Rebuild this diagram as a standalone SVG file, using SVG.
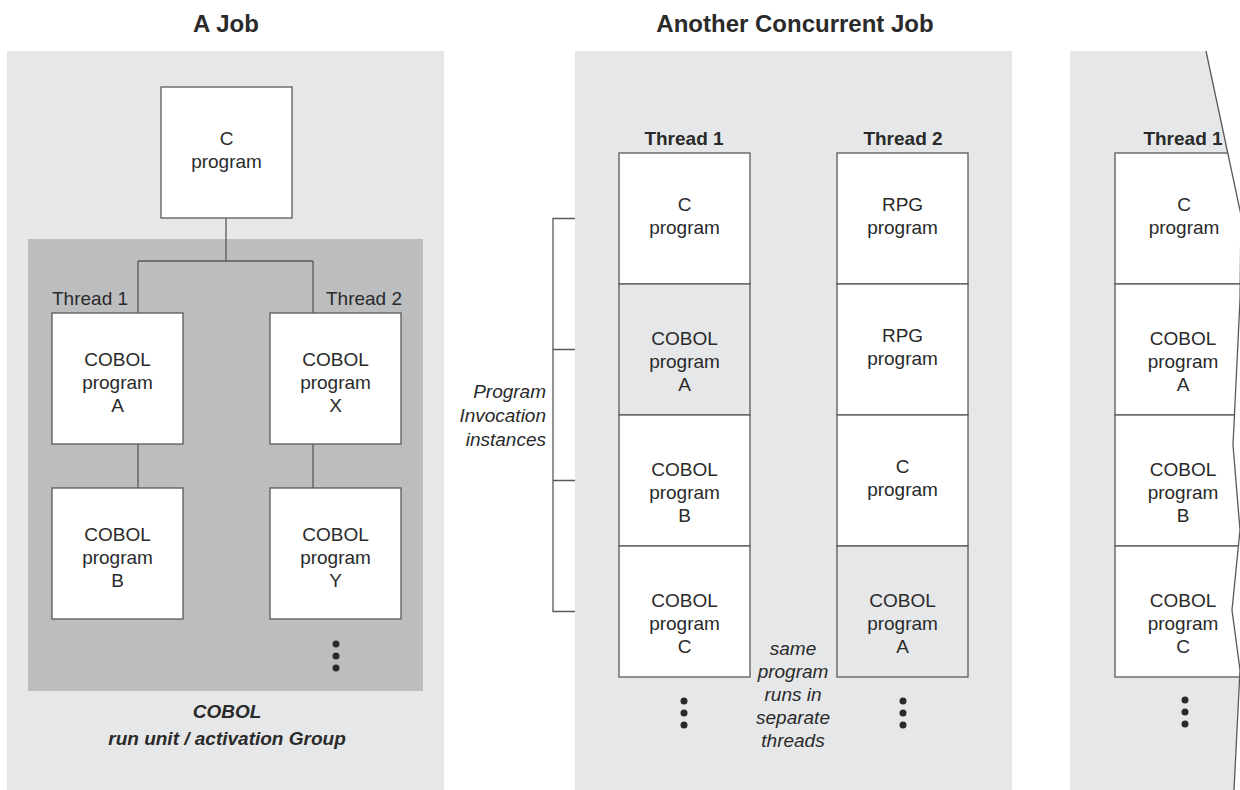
<svg xmlns="http://www.w3.org/2000/svg" width="1240" height="790" viewBox="0 0 1240 790">
<defs>
<style>
text{font-family:"Liberation Sans",Arial,sans-serif;fill:#2a2a2a;font-size:19px}
.t{font-size:24px;font-weight:bold;text-anchor:middle}
.th{font-weight:bold;text-anchor:middle}
.c{text-anchor:middle}
.i{font-style:italic}
.bi{font-style:italic;font-weight:bold;text-anchor:middle}
.box{fill:#ffffff;stroke:#58595b;stroke-width:1.3}
.boxg{fill:#e6e7e8;stroke:#58595b;stroke-width:1.3}
.ln{fill:none;stroke:#58595b;stroke-width:1.3}
.dot{fill:#2a2a2a}
.dash{fill:none;stroke:#666;stroke-width:1.3;stroke-dasharray:2 2}
</style>
<clipPath id="p3clip">
<polygon points="1070,51 1206,51 1241,215 1240,300 1233,445 1240,530 1232,610 1240,670 1234,790 1070,790"/>
</clipPath>
</defs>

<!-- Panel 1 -->
<g id="panel1">
<rect x="7" y="51" width="437" height="739" fill="#e6e7e8"/>
<rect x="28" y="239" width="395" height="452" fill="#bcbdbf"/>
<text class="t" x="226" y="32">A Job</text>
<text x="52" y="305">Thread 1</text>
<text x="402" y="305" text-anchor="end">Thread 2</text>
<text class="bi" x="227" y="718">COBOL</text>
<text class="bi" x="227" y="745">run unit / activation Group</text>
</g>

<g id="connectors">
<path class="ln" d="M226,218 V261 M138,261 H313 M138,261 V313 M313,261 V313 M138,444 V488 M313,444 V488"/>
<path class="ln" d="M619,218.5 H553 V611.5 H619 M553,349.5 H619 M553,480.5 H619"/>
<path class="dash" d="M750,349.5 H793 V611.5 H837"/>
</g>

<g id="p1-c">
<rect class="box" x="161" y="87" width="131" height="131"/>
<text class="c" x="226.5" y="145">C</text>
<text class="c" x="226.5" y="168">program</text>
</g>
<g id="p1-a">
<rect class="box" x="52" y="313" width="131" height="131"/>
<text class="c" x="117.5" y="366">COBOL</text>
<text class="c" x="117.5" y="388.5">program</text>
<text class="c" x="117.5" y="411.5">A</text>
</g>
<g id="p1-x">
<rect class="box" x="270" y="313" width="131" height="131"/>
<text class="c" x="335.5" y="366">COBOL</text>
<text class="c" x="335.5" y="388.5">program</text>
<text class="c" x="335.5" y="411.5">X</text>
</g>
<g id="p1-b">
<rect class="box" x="52" y="488" width="131" height="131"/>
<text class="c" x="117.5" y="541">COBOL</text>
<text class="c" x="117.5" y="563.5">program</text>
<text class="c" x="117.5" y="586.5">B</text>
</g>
<g id="p1-y">
<rect class="box" x="270" y="488" width="131" height="131"/>
<text class="c" x="335.5" y="541">COBOL</text>
<text class="c" x="335.5" y="563.5">program</text>
<text class="c" x="335.5" y="586.5">Y</text>
</g>
<g id="p1-dots">
<circle class="dot" cx="336" cy="644" r="3.5"/>
<circle class="dot" cx="336" cy="656" r="3.5"/>
<circle class="dot" cx="336" cy="668" r="3.5"/>
</g>

<!-- Panel 2 -->
<g id="panel2">
<rect x="575" y="51" width="437" height="739" fill="#e6e7e8"/>
<text class="t" x="795" y="32">Another Concurrent Job</text>
<text class="th" x="684" y="145">Thread 1</text>
<text class="th" x="903" y="145">Thread 2</text>
<text class="i" x="546" y="398" text-anchor="end">Program</text>
<text class="i" x="546" y="422" text-anchor="end">Invocation</text>
<text class="i" x="546" y="446" text-anchor="end">instances</text>
<text class="i c" x="793" y="655">same</text>
<text class="i c" x="793" y="678">program</text>
<text class="i c" x="793" y="701">runs in</text>
<text class="i c" x="793" y="724">separate</text>
<text class="i c" x="793" y="747">threads</text>
</g>
<g id="p2-t1-c">
<rect class="box" x="619" y="153" width="131" height="131"/>
<text class="c" x="684.5" y="211">C</text>
<text class="c" x="684.5" y="234">program</text>
</g>
<g id="p2-t1-a">
<rect class="boxg" x="619" y="284" width="131" height="131"/>
<text class="c" x="684.5" y="345">COBOL</text>
<text class="c" x="684.5" y="368">program</text>
<text class="c" x="684.5" y="391">A</text>
</g>
<g id="p2-t1-b">
<rect class="box" x="619" y="415" width="131" height="131"/>
<text class="c" x="684.5" y="476">COBOL</text>
<text class="c" x="684.5" y="499">program</text>
<text class="c" x="684.5" y="522">B</text>
</g>
<g id="p2-t1-cc">
<rect class="box" x="619" y="546" width="131" height="131"/>
<text class="c" x="684.5" y="607">COBOL</text>
<text class="c" x="684.5" y="630">program</text>
<text class="c" x="684.5" y="653">C</text>
</g>
<g id="p2-t2-rpg1">
<rect class="box" x="837" y="153" width="131" height="131"/>
<text class="c" x="902.5" y="211">RPG</text>
<text class="c" x="902.5" y="234">program</text>
</g>
<g id="p2-t2-rpg2">
<rect class="box" x="837" y="284" width="131" height="131"/>
<text class="c" x="902.5" y="342">RPG</text>
<text class="c" x="902.5" y="365">program</text>
</g>
<g id="p2-t2-c">
<rect class="box" x="837" y="415" width="131" height="131"/>
<text class="c" x="902.5" y="473">C</text>
<text class="c" x="902.5" y="496">program</text>
</g>
<g id="p2-t2-a">
<rect class="boxg" x="837" y="546" width="131" height="131"/>
<text class="c" x="902.5" y="607">COBOL</text>
<text class="c" x="902.5" y="630">program</text>
<text class="c" x="902.5" y="653">A</text>
</g>
<g id="p2-dots">
<circle class="dot" cx="684" cy="701" r="3.5"/>
<circle class="dot" cx="684" cy="713" r="3.5"/>
<circle class="dot" cx="684" cy="725" r="3.5"/>
<circle class="dot" cx="903" cy="701" r="3.5"/>
<circle class="dot" cx="903" cy="713" r="3.5"/>
<circle class="dot" cx="903" cy="725" r="3.5"/>
</g>

<!-- Panel 3 -->
<g id="panel3">
<g clip-path="url(#p3clip)">
<rect x="1070" y="51" width="180" height="739" fill="#e6e7e8"/>
<rect class="box" x="1115" y="153" width="140" height="131"/>
<rect class="box" x="1115" y="284" width="140" height="131"/>
<rect class="box" x="1115" y="415" width="140" height="131"/>
<rect class="box" x="1115" y="546" width="140" height="131"/>
</g>
<path class="ln" d="M1206,51 L1241,215 L1240,300 L1233,445 L1240,530 L1232,610 L1240,670 L1234,790"/>
<text class="th" x="1183" y="145">Thread 1</text>
</g>
<g id="p3-c">
<text class="c" x="1184" y="211">C</text>
<text class="c" x="1184" y="234">program</text>
</g>
<g id="p3-a">
<text class="c" x="1183" y="345">COBOL</text>
<text class="c" x="1183" y="368">program</text>
<text class="c" x="1183" y="391">A</text>
</g>
<g id="p3-b">
<text class="c" x="1183" y="476">COBOL</text>
<text class="c" x="1183" y="499">program</text>
<text class="c" x="1183" y="522">B</text>
</g>
<g id="p3-cc">
<text class="c" x="1183" y="607">COBOL</text>
<text class="c" x="1183" y="630">program</text>
<text class="c" x="1183" y="653">C</text>
</g>
<g id="p3-dots">
<circle class="dot" cx="1185" cy="700" r="3.5"/>
<circle class="dot" cx="1185" cy="712" r="3.5"/>
<circle class="dot" cx="1185" cy="724" r="3.5"/>
</g>
</svg>
